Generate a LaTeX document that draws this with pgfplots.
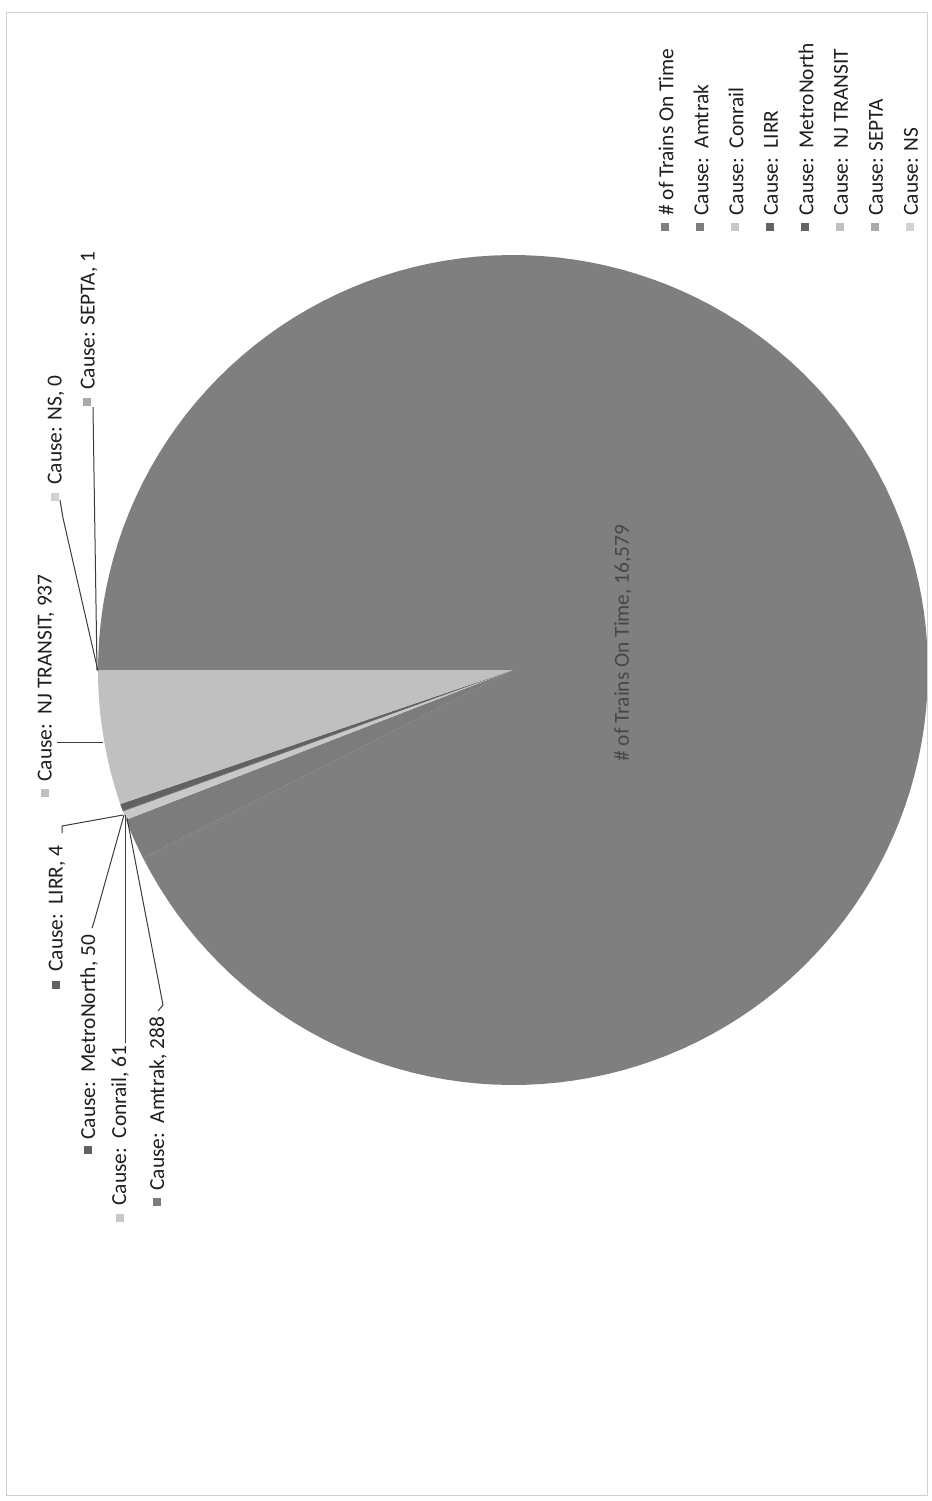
\documentclass[border=0pt]{standalone}
\usepackage{pgfplots}
\pgfplotsset{compat=1.18}
\usepackage{fontspec}
\setmainfont{Carlito}
\definecolor{cOn}{RGB}{127,127,127}
\definecolor{cAm}{RGB}{124,124,124}
\definecolor{cCo}{RGB}{200,200,200}
\definecolor{cLi}{RGB}{100,100,100}
\definecolor{cMe}{RGB}{98,98,98}
\definecolor{cNJ}{RGB}{192,192,192}
\definecolor{cSe}{RGB}{170,170,170}
\definecolor{cNS}{RGB}{210,210,210}
\definecolor{txt}{RGB}{30,30,30}
\definecolor{lead}{RGB}{60,60,60}
\newcommand\pieslice[3]{%
  \addplot[fill=#1, draw=none, domain=#2:#3, samples=150, variable=\t]
    ({513-415*cos(\t)},{670-415*sin(\t)}) -- (axis cs:513,670) -- cycle;}
\newcommand\lfont{\fontsize{10.7}{12}\selectfont}
\newcommand\legitem[3]{% x, colour, text
  \fill[#2] (axis cs:#1-4,223) rectangle (axis cs:#1+4,231);
  \node[rotate=90, anchor=west, inner sep=0pt, text=txt, font=\lfont] at (axis cs:#1+1,216) {#3};}
% data: number of trains
\def\vOn{16579}\def\vAm{288}\def\vCo{61}\def\vLi{4}\def\vMe{50}\def\vNJ{937}\def\vSe{1}\def\vNS{0}
\edef\tot{\fpeval{\vOn+\vAm+\vCo+\vLi+\vMe+\vNJ+\vSe+\vNS}}
\edef\eOn{\fpeval{round(\vOn/\tot*360,4)}}
\edef\eAm{\fpeval{round((\vOn+\vAm)/\tot*360,4)}}
\edef\eCo{\fpeval{round((\vOn+\vAm+\vCo)/\tot*360,4)}}
\edef\eLi{\fpeval{round((\vOn+\vAm+\vCo+\vLi)/\tot*360,4)}}
\edef\eMe{\fpeval{round((\vOn+\vAm+\vCo+\vLi+\vMe)/\tot*360,4)}}
\edef\eNJ{\fpeval{round((\vOn+\vAm+\vCo+\vLi+\vMe+\vNJ)/\tot*360,4)}}
\edef\eSe{\fpeval{round((\vOn+\vAm+\vCo+\vLi+\vMe+\vNJ+\vSe)/\tot*360,4)}}
\begin{document}
\begin{tikzpicture}
\useasboundingbox (0,0) rectangle (466pt,750.5pt);
\begin{axis}[at={(0,0)}, anchor=south west, scale only axis,
  width=466pt, height=750.5pt, xmin=0, xmax=932, ymin=0, ymax=1501,
  y dir=reverse, hide axis, clip=false]
\pieslice{cOn}{0}{\eOn}
\pieslice{cAm}{\eOn}{\eAm}
\pieslice{cCo}{\eAm}{\eCo}
\pieslice{cLi}{\eCo}{\eLi}
\pieslice{cMe}{\eLi}{\eMe}
\pieslice{cNJ}{\eMe}{\eNJ}
\pieslice{cSe}{\eNJ}{\eSe}
% border
\draw[gray!35, line width=0.4pt] (axis cs:6,12) rectangle (axis cs:927,1495);
% leader lines
\draw[lead, line width=0.5pt] (axis cs:93,407) -- (axis cs:97,670);
\draw[lead, line width=0.5pt] (axis cs:60,500) -- (axis cs:63,518) -- (axis cs:98,671);
\draw[lead, line width=0.5pt] (axis cs:57,742) -- (axis cs:103,742);
\draw[lead, line width=0.5pt] (axis cs:62,833) -- (axis cs:62,826) -- (axis cs:123,815);
\draw[lead, line width=0.5pt] (axis cs:124,815) -- (axis cs:94,922) -- (axis cs:92,928);
\draw[lead, line width=0.5pt] (axis cs:125,815) -- (axis cs:125,1043);
\draw[lead, line width=0.5pt] (axis cs:127,818) -- (axis cs:163,1005) -- (axis cs:158,1011);
% data labels
\fill[cSe] (axis cs:83,398) rectangle (axis cs:91,406);
\node[rotate=90, anchor=west, inner sep=0pt, text=txt, font=\lfont] at (axis cs:89,390) {Cause: SEPTA, 1};
\fill[cNS] (axis cs:51,493) rectangle (axis cs:59,501);
\node[rotate=90, anchor=west, inner sep=0pt, text=txt, font=\lfont] at (axis cs:56,485) {Cause: NS, 0};
\fill[cNJ] (axis cs:41,789) rectangle (axis cs:49,797);
\node[rotate=90, anchor=west, inner sep=0pt, text=txt, font=\lfont] at (axis cs:46,782) {Cause:\hspace{0.45em}NJ TRANSIT, 937};
\fill[cLi] (axis cs:52,981) rectangle (axis cs:60,989);
\node[rotate=90, anchor=west, inner sep=0pt, text=txt, font=\lfont] at (axis cs:57,972) {Cause:\hspace{0.45em}LIRR, 4};
\fill[cMe] (axis cs:84,1146) rectangle (axis cs:92,1154);
\node[rotate=90, anchor=west, inner sep=0pt, text=txt, font=\lfont] at (axis cs:89,1140) {Cause:\hspace{0.45em}MetroNorth, 50};
\fill[cCo] (axis cs:116,1214) rectangle (axis cs:124,1222);
\node[rotate=90, anchor=west, inner sep=0pt, text=txt, font=\lfont] at (axis cs:120,1206) {Cause:\hspace{0.45em}Conrail, 61};
\fill[cAm] (axis cs:153,1198) rectangle (axis cs:161,1206);
\node[rotate=90, anchor=west, inner sep=0pt, text=txt, font=\lfont] at (axis cs:158,1191) {Cause:\hspace{0.45em}Amtrak, 288};
\node[rotate=90, inner sep=0pt, text=black!72, font=\lfont] at (axis cs:623,643) {\# of Trains On Time, 16,579};
% legend
\legitem{665}{cOn}{\# of Trains On Time}
\legitem{700}{cAm}{Cause:\hspace{0.45em}Amtrak}
\legitem{735}{cCo}{Cause:\hspace{0.45em}Conrail}
\legitem{770}{cLi}{Cause:\hspace{0.45em}LIRR}
\legitem{805}{cMe}{Cause:\hspace{0.45em}MetroNorth}
\legitem{840}{cNJ}{Cause:\hspace{0.45em}NJ TRANSIT}
\legitem{875}{cSe}{Cause: SEPTA}
\legitem{910}{cNS}{Cause: NS}
\end{axis}
\end{tikzpicture}
\end{document}
